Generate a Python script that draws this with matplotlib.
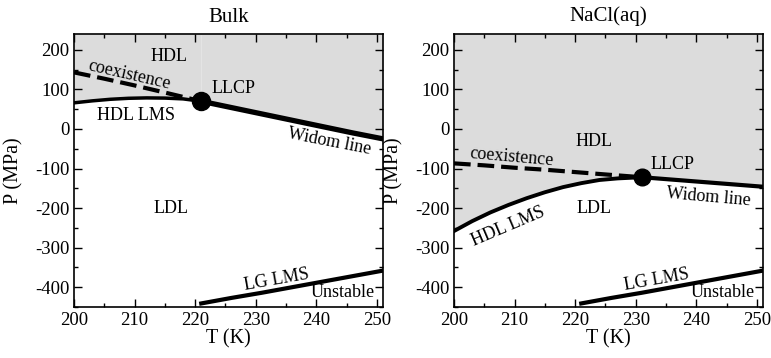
import numpy as np
import matplotlib.pyplot as plt
from matplotlib.ticker import MultipleLocator

plt.rcParams['font.family'] = ['Liberation Serif', 'DejaVu Serif']
plt.rcParams['axes.unicode_minus'] = False
plt.rcParams['lines.scale_dashes'] = False

# --- Bulk data (T in K, P in MPa) ---
bulk_llcp = (221, 70)
bulk_coex_T = [200, 205, 210, 215, 221]
bulk_coex_P = [143, 127, 110, 92, 70]
bulk_lms_T = [200, 203, 206, 209, 212, 215, 218, 221]
bulk_lms_P = [66, 71, 75, 77.5, 78.5, 78, 76, 70]
bulk_widom_T = [221, 226, 231, 236, 241, 246, 251]
bulk_widom_P = [70, 54, 38, 22, 6, -10, -25]

# --- NaCl(aq) data ---
nacl_llcp = (231, -122)
nacl_coex_T = [200, 205, 210, 215, 220, 225, 231]
nacl_coex_P = [-87, -92, -98, -103, -109, -115, -122]
nacl_lms_T = [200, 203, 206, 209, 212, 215, 218, 221, 224, 227, 231]
nacl_lms_P = [-258, -233, -211, -192, -175, -160, -147, -137, -129, -125, -122]
nacl_widom_T = [231, 236, 241, 246, 251]
nacl_widom_P = [-122, -128, -134, -140, -146]

# LG limit of mechanical stability (same in both panels)
lg_T = [221, 226, 231, 236, 241, 246, 251]
lg_P = [-441, -427, -414, -400, -386, -372, -358]

YTOP = 240
GRAY = '#dcdcdc'
FS = 13

fig = plt.figure(figsize=(7.71, 3.58), dpi=100)
ax1 = fig.add_axes([74/771, 1-307/358, 309/771, 273/358])
ax2 = fig.add_axes([454/771, 1-307/358, 309/771, 273/358])


def style(ax, title):
    ax.set_xlim(200, 251)
    ax.set_ylim(-450, YTOP)
    ax.xaxis.set_major_locator(MultipleLocator(10))
    ax.xaxis.set_minor_locator(MultipleLocator(5))
    ax.yaxis.set_major_locator(MultipleLocator(100))
    ax.yaxis.set_minor_locator(MultipleLocator(50))
    ax.tick_params(which='both', direction='in', top=True, right=True, labelsize=13.5, width=1)
    ax.tick_params(which='major', length=6)
    ax.tick_params(which='minor', length=3)
    for s in ax.spines.values():
        s.set_linewidth(1.2)
    ax.set_xlabel('T (K)', fontsize=14.5)
    ax.set_ylabel('P (MPa)', fontsize=14.5)
    ax.xaxis.set_label_coords(0.5, -0.08)
    ax.yaxis.set_label_coords(-0.162, 0.5)
    ax.set_title(title, fontsize=15, pad=9)


# ---- Bulk panel ----
ax1.fill_between(bulk_lms_T, bulk_lms_P, YTOP, color=GRAY, lw=0)
ax1.fill_between(bulk_widom_T, bulk_widom_P, YTOP, color=GRAY, lw=0)
ax1.axvline(bulk_llcp[0], ymin=0.75, color='#e4e4e4', lw=0.8)
ax1.plot(bulk_coex_T, bulk_coex_P, 'k', lw=3, dashes=(12, 5))
ax1.plot(bulk_lms_T, bulk_lms_P, 'k', lw=2.5)
ax1.plot(bulk_widom_T, bulk_widom_P, 'k', lw=3.8)
ax1.plot(lg_T, lg_P, 'k', lw=3)
ax1.plot(*bulk_llcp, 'ko', ms=13)

txt = dict(fontsize=FS, ha='center', va='center', rotation_mode='anchor')
ax1.text(215.7, 183, 'HDL', **txt)
ax1.text(209.2, 137, 'coexistence', rotation=-13, **txt)
ax1.text(226.4, 103, 'LLCP', **txt)
ax1.text(210.3, 35, 'HDL LMS', **txt)
ax1.text(242.2, -33, 'Widom line', rotation=-11, **txt)
ax1.text(216, -200, 'LDL', **txt)
ax1.text(233.5, -381, 'LG LMS', rotation=10, **txt)
ax1.text(244.4, -414, 'Unstable', **txt)
style(ax1, 'Bulk')

# ---- NaCl(aq) panel ----
ax2.fill_between(nacl_lms_T[:-1] + nacl_widom_T, nacl_lms_P[:-1] + nacl_widom_P, YTOP,
                 color=GRAY, lw=0)
ax2.plot(nacl_coex_T, nacl_coex_P, 'k', lw=3, dashes=(12, 5))
ax2.plot(nacl_lms_T, nacl_lms_P, 'k', lw=2.8)
ax2.plot(nacl_widom_T, nacl_widom_P, 'k', lw=3)
ax2.plot(lg_T, lg_P, 'k', lw=3)
ax2.plot(*nacl_llcp, 'ko', ms=12)

ax2.text(223.1, -32, 'HDL', **txt)
ax2.text(209.5, -72, 'coexistence', rotation=-5, **txt)
ax2.text(236, -89, 'LLCP', **txt)
ax2.text(242, -172, 'Widom line', rotation=-5, **txt)
ax2.text(223.1, -200, 'LDL', **txt)
ax2.text(208.9, -247, 'HDL LMS', rotation=23, **txt)
ax2.text(233.5, -381, 'LG LMS', rotation=10, **txt)
ax2.text(244.4, -414, 'Unstable', **txt)
style(ax2, 'NaCl(aq)')

fig.savefig('out.png', dpi=100)
